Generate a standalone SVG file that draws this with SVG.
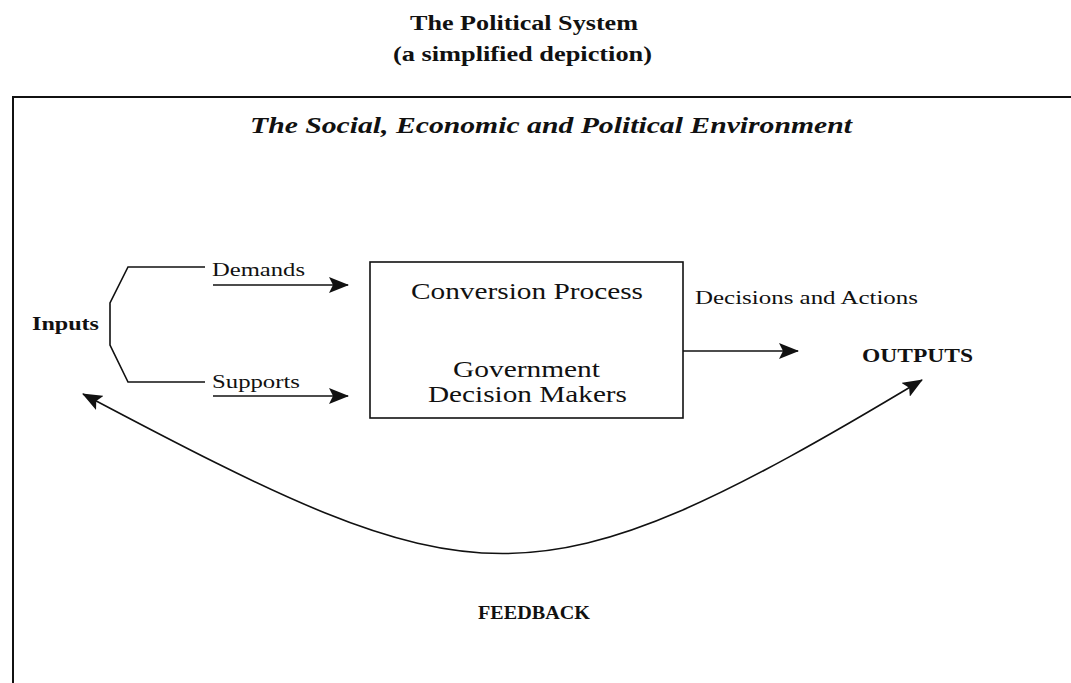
<svg xmlns="http://www.w3.org/2000/svg" width="1071" height="683" viewBox="0 0 1071 683">
  <style>
    text { font-family: "Liberation Serif", "DejaVu Serif", serif; fill: #111; }
    .title { font-size: 20px; font-weight: bold; }
    .env { font-size: 23px; font-weight: bold; font-style: italic; }
    .lbl { font-size: 19px; }
    .box-txt { font-size: 24px; }
    .strong { font-size: 19px; font-weight: bold; }
    .wire { fill: none; stroke: #111; stroke-width: 1.6; }
    .frame { fill: none; stroke: #111; stroke-width: 2; }
  </style>
  <defs>
    <marker id="arrow" viewBox="0 0 20 16" refX="19" refY="8" markerWidth="20" markerHeight="16" markerUnits="userSpaceOnUse" orient="auto-start-reverse">
      <path d="M0,0 L20,8 L0,16 L4,8 z" fill="#111"/>
    </marker>
  </defs>

  <rect width="1071" height="683" fill="#fff"/>

  <!-- heading -->
  <g id="heading">
    <text class="title" x="410" y="30" textLength="228" lengthAdjust="spacingAndGlyphs">The Political System</text>
    <text class="title" x="393" y="61" textLength="259" lengthAdjust="spacingAndGlyphs">(a simplified depiction)</text>
  </g>

  <!-- environment frame -->
  <g id="environment">
    <path class="frame" d="M13,683 L13,97 L1071,97"/>
    <text class="env" x="250" y="133" textLength="602" lengthAdjust="spacingAndGlyphs">The Social, Economic and Political Environment</text>
  </g>

  <!-- inputs -->
  <g id="inputs">
    <text class="strong" x="32" y="330" textLength="67" lengthAdjust="spacingAndGlyphs">Inputs</text>
  </g>

  <!-- conversion process -->
  <g id="conversion">
    <rect class="wire" x="370" y="262" width="313" height="156"/>
    <text class="box-txt" x="411" y="299" textLength="232" lengthAdjust="spacingAndGlyphs">Conversion Process</text>
    <text class="box-txt" x="453" y="377" textLength="147" lengthAdjust="spacingAndGlyphs">Government</text>
    <text class="box-txt" x="428" y="402" textLength="199" lengthAdjust="spacingAndGlyphs">Decision Makers</text>
  </g>

  <!-- outputs -->
  <g id="outputs">
    <text class="strong" x="862" y="362" textLength="111" lengthAdjust="spacingAndGlyphs">OUTPUTS</text>
  </g>

  <!-- feedback -->
  <g id="feedback">
    <text class="strong" x="478" y="619" textLength="112" lengthAdjust="spacingAndGlyphs">FEEDBACK</text>
  </g>

  <!-- connectors -->
  <g id="connectors">
    <polyline class="wire" points="205,267 128,267 110,303 110,345 128,382 205,382"/>
    <text class="lbl" x="212" y="276" textLength="93" lengthAdjust="spacingAndGlyphs">Demands</text>
    <text class="lbl" x="212" y="388" textLength="88" lengthAdjust="spacingAndGlyphs">Supports</text>
    <line class="wire" x1="213" y1="285" x2="348" y2="285" marker-end="url(#arrow)"/>
    <line class="wire" x1="213" y1="396" x2="348" y2="396" marker-end="url(#arrow)"/>
    <text class="lbl" x="695" y="304" textLength="223" lengthAdjust="spacingAndGlyphs">Decisions and Actions</text>
    <line class="wire" x1="683" y1="351" x2="798" y2="351" marker-end="url(#arrow)"/>
    <path class="wire" d="M83,394 C476,602 529,616 922,380" marker-start="url(#arrow)" marker-end="url(#arrow)"/>
  </g>
</svg>
